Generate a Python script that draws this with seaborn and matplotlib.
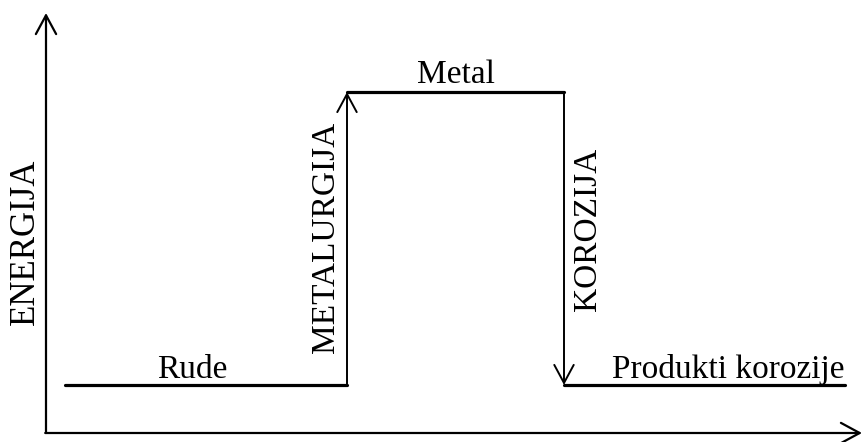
import matplotlib
matplotlib.use("Agg")
import matplotlib.pyplot as plt
import seaborn as sns
import pandas as pd

sns.set_theme(style="white")
plt.rcParams['font.family'] = ['Liberation Serif', 'DejaVu Serif']
plt.rcParams['text.color'] = 'black'

# Diagram data (energy levels of the three states, in drawing units)
stages = ["Rude", "Metal", "Produkti korozije"]
stage_start = [65, 347, 564]
stage_end = [347, 564, 845]
energy = [57, 350, 57]
processes = ["METALURGIJA", "KOROZIJA"]
axis_label = "ENERGIJA"

fig = plt.figure(figsize=(8.64, 4.42), dpi=100)
ax = fig.add_axes([0, 0, 1, 1])
ax.set_xlim(0, 864)
ax.set_ylim(0, 442)
ax.axis("off")

rows = []
for i, s in enumerate(stages):
    rows.append({"stage": s, "x": stage_start[i], "E": energy[i]})
    rows.append({"stage": s, "x": stage_end[i], "E": energy[i]})
df = pd.DataFrame(rows)
sns.lineplot(data=df, x="x", y="E", units="stage", estimator=None,
             color="black", linewidth=2.3, ax=ax, legend=False, sort=False)

# axes arrows
ox, oy = 46, 9
arrow_kw = dict(arrowstyle="->,head_length=13.5,head_width=7.3",
                mutation_scale=1, color="black", lw=1.6, shrinkA=0, shrinkB=0)
ax.annotate("", xy=(ox, 429), xytext=(ox, oy), arrowprops=arrow_kw)
ax.annotate("", xy=(862, oy), xytext=(ox - 0.8, oy), arrowprops=arrow_kw)

# process arrows
proc_kw = dict(arrowstyle="->,head_length=13,head_width=7",
               mutation_scale=1, color="black", lw=1.4, shrinkA=0, shrinkB=0)
ax.annotate("", xy=(stage_end[0], energy[1]), xytext=(stage_end[0], energy[0]),
            arrowprops=proc_kw)
ax.annotate("", xy=(stage_end[1], energy[2]), xytext=(stage_end[1], energy[1]),
            arrowprops=proc_kw)

fs = 24
tk = dict(fontsize=fs, color="black")
ax.text(192, 442 - 378, stages[0], ha="center", va="baseline", **tk)
ax.text(456, 442 - 83, stages[1], ha="center", va="baseline", **tk)
ax.text(845, 442 - 378, stages[2], ha="right", va="baseline", **tk)
ax.text(326, 442 - 237, processes[0], rotation=90, ha="center", va="center", **tk)
ax.text(588, 442 - 229, processes[1], rotation=90, ha="center", va="center", **tk)
ax.text(25, 442 - 242, axis_label, rotation=90, ha="center", va="center",
        fontsize=25, color="black")

fig.savefig("out.png", dpi=100)
